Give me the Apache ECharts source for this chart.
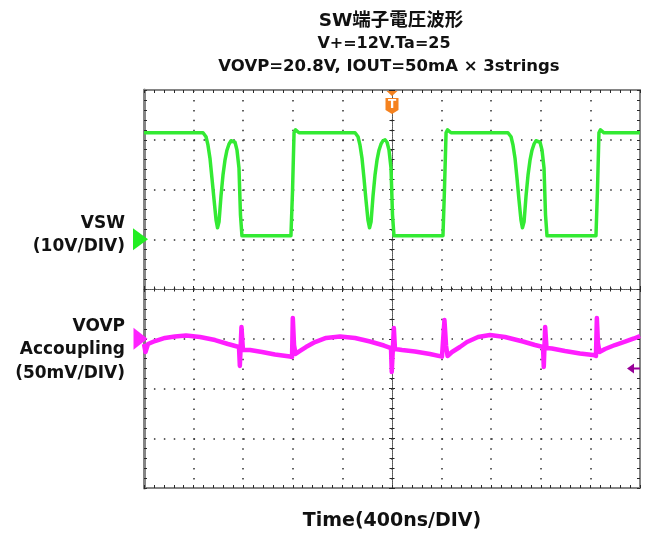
<!DOCTYPE html>
<html><head><meta charset="utf-8">
<script src="https://cdn.jsdelivr.net/npm/echarts@6/dist/echarts.min.js"></script>
<style>html,body{margin:0;padding:0;background:#fff}#c{width:648px;height:543px}</style>
</head><body><div id="c"></div>
<script>
// ---- texts ----
const titleLines = ['SW端子電圧波形', 'V+=12V.Ta=25', 'VOVP=20.8V, IOUT=50mA × 3strings'];
const vswLabel = 'VSW\n(10V/DIV)';
const ovpLabel = 'VOVP\nAccoupling\n(50mV/DIV)';
const timeLabel = 'Time(400ns/DIV)';
const triggerText = 'T';

// ---- scales (scope divisions) ----
const timeRange = [0, 4000];      // ns, 400 ns/div
const timeDiv = 400;
const vswRange = [-50, 30];       // V, 10 V/div
const vswDiv = 10;
const ovpRange = [-150, 250];     // mV, 50 mV/div
const ovpDiv = 50;

// ---- markers ----
const vswGround = 0;              // V
const ovpZero = 0;                // mV
const triggerTime = 2000;         // ns
const ovpCursorLevel = -30;       // mV

// ---- VSW trace (ns, V) ----
const vswTime = [0, 476, 500, 516, 532, 548, 565, 581, 593, 605, 621, 637, 653, 669, 685, 702, 718, 734, 750, 766, 778, 790,
  1185, 1198, 1210, 1222, 1250,
  1702, 1726, 1742, 1758, 1774, 1790, 1806, 1819, 1831, 1847, 1863, 1879, 1895, 1911, 1927, 1944, 1960, 1976, 1992, 2004, 2016,
  2411, 2423, 2436, 2448, 2476,
  2935, 2960, 2976, 2992, 3008, 3024, 3040, 3052, 3065, 3081, 3097, 3113, 3129, 3145, 3161, 3177, 3194, 3210, 3226, 3238, 3250,
  3645, 3657, 3669, 3681, 3710, 4000];
const vswVolt = [21.4, 21.4, 20.6, 18.9, 16.3, 12.3, 7.9, 3.9, 2.3, 3.5, 8.7, 12.9, 15.9, 17.9, 19.1, 19.8, 20.0, 19.5, 17.9, 14.3, 4.9, 0.7,
  0.7, 9.9, 21.4, 22.0, 21.4,
  21.4, 20.6, 18.9, 16.3, 12.3, 7.9, 3.9, 2.3, 3.5, 8.7, 12.9, 15.9, 17.9, 19.1, 19.8, 20.0, 19.5, 17.9, 14.3, 4.9, 0.7,
  0.7, 9.9, 21.4, 22.0, 21.4,
  21.4, 20.6, 18.9, 16.3, 12.3, 7.9, 3.9, 2.3, 3.5, 8.7, 12.9, 15.9, 17.9, 19.1, 19.8, 20.0, 19.5, 17.9, 14.3, 4.9, 0.7,
  0.7, 9.9, 21.4, 22.0, 21.4, 21.4];

// ---- VOVP trace, AC coupled (ns, mV) ----
const ovpTime = [0, 12, 32, 89, 169, 250, 339, 452, 573, 677, 766, 773, 786, 798,
  855, 952, 1056, 1177, 1194, 1200, 1210, 1222, 1258, 1306, 1379, 1468, 1581, 1702, 1823, 1935, 1992,
  1998, 2015, 2024,
  2081, 2185, 2306, 2403, 2418, 2423, 2436, 2448, 2484, 2548, 2605, 2694, 2790, 2911, 3056, 3153, 3218,
  3224, 3235, 3246,
  3290, 3395, 3516, 3621, 3645, 3652, 3661, 3673, 3718, 3798, 3879, 3952, 4000];
const ovpMilliVolt = [-5.3, -13.3, -5.3, -2.3, 0.8, 2.3, 3.3, 1.8, -1.3, -5.3, -8.3, -27.4, 11.8, -11.3,
  -11.3, -13.3, -15.8, -17.8, -18.3, 20.9, -6.3, -15.3, -12.3, -8.3, -3.3, 0.8, 2.3, 0.8, -2.8, -6.8, -9.3,
  -33.4, 10.8, -10.3,
  -11.3, -12.8, -15.3, -18.0, -18.3, 18.8, -7.3, -17.3, -13.3, -8.3, -3.3, 1.8, 3.8, 1.8, -2.8, -6.3, -8.3,
  -28.4, 11.8, -9.3,
  -9.8, -12.3, -14.8, -16.3, -17.3, 20.9, -4.3, -13.3, -10.3, -6.3, -3.0, 0.3, 2.8];

const FONT = "'DejaVu Sans','Noto Sans CJK JP',sans-serif";
const BORDER = '#858585', TICK = '#2a2a2a', DOT = '#2e2e2e';
const GREEN = '#33ea33', MAGENTA = '#ff1eff';

const vswData = vswTime.map((t, i) => [t, vswVolt[i]]);
const ovpData = ovpTime.map((t, i) => [t, ovpMilliVolt[i]]);

function frameAxis(extra) {
  return Object.assign({
    type: 'value', axisLabel: { show: false }, splitLine: { show: false },
    axisLine: { onZero: false, lineStyle: { color: BORDER, width: 2 } },
    axisTick: { show: true, inside: true, length: 3, lineStyle: { color: TICK, width: 1 } },
    minorTick: { show: true, splitNumber: 5, length: 3, lineStyle: { color: TICK, width: 1 } }
  }, extra);
}
function centerAxis(extra, inside) {
  return Object.assign({
    type: 'value', axisLabel: { show: false }, splitLine: { show: false },
    axisLine: { onZero: false, lineStyle: { color: '#555', width: 1, type: [1, 1] } },
    axisTick: { show: true, inside: inside, length: 3, lineStyle: { color: TICK, width: 1 } },
    minorTick: { show: true, splitNumber: 5, length: 2.5, lineStyle: { color: TICK, width: 1 } }
  }, extra);
}
const xBase = { min: timeRange[0], max: timeRange[1], interval: timeDiv };
const yBase = { min: vswRange[0], max: vswRange[1], interval: vswDiv };

const chart = echarts.init(document.getElementById('c'), null, { renderer: 'canvas' });
chart.setOption({
  animation: false,
  backgroundColor: '#ffffff',
  grid: { left: 144, top: 90, width: 496, height: 398, outerBoundsMode: 'none', containLabel: false },
  xAxis: [
    frameAxis(Object.assign({}, xBase, {
      position: 'bottom',
      splitLine: { show: true, lineStyle: { color: DOT, width: 1.5, type: [1.5, 8.45] } },
      name: timeLabel, nameLocation: 'middle', nameGap: 24,
      nameTextStyle: { fontFamily: FONT, fontWeight: 'bold', fontSize: 19, color: '#111' }
    })),
    frameAxis(Object.assign({}, xBase, { position: 'top' })),
    centerAxis(Object.assign({}, xBase, { position: 'bottom', offset: -199 }), true),
    centerAxis(Object.assign({}, xBase, { position: 'bottom', offset: -199 }), false)
  ],
  yAxis: [
    frameAxis(Object.assign({}, yBase, {
      position: 'left',
      axisLine: { onZero: false, lineStyle: { color: BORDER, width: 3 } },
      splitLine: { show: true, lineStyle: { color: DOT, width: 1.5, type: [1.5, 8.42] } }
    })),
    { type: 'value', show: false, min: ovpRange[0], max: ovpRange[1], interval: ovpDiv, position: 'right',
      axisLine: { onZero: false }, splitLine: { show: false } },
    frameAxis(Object.assign({}, yBase, { position: 'right' })),
    centerAxis(Object.assign({}, yBase, { position: 'left', offset: -248 }), true),
    centerAxis(Object.assign({}, yBase, { position: 'left', offset: -248 }), false)
  ],
  series: [
    {
      name: 'VSW', type: 'line', xAxisIndex: 0, yAxisIndex: 0, data: vswData,
      symbol: 'none', smooth: false, z: 5, clip: true,
      lineStyle: { color: GREEN, width: 3.5, join: 'round' },
      markPoint: {
        silent: true, z: 10,
        data: [
          { coord: [timeRange[0], vswGround], symbol: 'path://M0,0 L15,11 L0,22 Z', symbolSize: [15, 22],
            symbolOffset: [-3.5, 0], itemStyle: { color: '#22ee22' }, label: { show: false } },
          { coord: [triggerTime, vswRange[1]],
            symbol: 'path://M1,0 L12,0 L6.5,5 Z M0,7 L13,7 L13,19 L6.5,23 L0,19 Z', symbolSize: [13, 23],
            symbolOffset: [0, 12.5], itemStyle: { color: '#f5821f' },
            label: { show: true, formatter: triggerText, position: 'inside', offset: [0, 2], color: '#fff',
              fontFamily: FONT, fontWeight: 'bold', fontSize: 12 } }
        ]
      }
    },
    {
      name: 'VOVP', type: 'line', xAxisIndex: 0, yAxisIndex: 1, data: ovpData,
      symbol: 'none', smooth: false, z: 4, clip: true,
      lineStyle: { color: MAGENTA, width: 4.5, join: 'round' },
      markPoint: {
        silent: true, z: 10,
        data: [
          { coord: [timeRange[0], ovpZero], symbol: 'path://M0,0 L15,11 L0,22 Z', symbolSize: [14, 22],
            symbolOffset: [-3.5, 0], itemStyle: { color: '#ff22ff' }, label: { show: false } },
          { coord: [timeRange[1], ovpCursorLevel],
            symbol: 'path://M0,5 L7,0 L7,4 L13,4 L13,6 L7,6 L7,10 Z', symbolSize: [13, 10],
            symbolOffset: [-6.5, 0], itemStyle: { color: '#990099' }, label: { show: false } }
        ]
      }
    }
  ],
  graphic: [
    { type: 'text', x: 391, y: 21.5, style: { text: titleLines[0], align: 'center', verticalAlign: 'middle',
      font: "bold 18.5px " + FONT, fill: '#111' } },
    { type: 'text', x: 384, y: 43.5, style: { text: titleLines[1], align: 'center', verticalAlign: 'middle',
      font: "bold 16px " + FONT, fill: '#111' } },
    { type: 'text', x: 389, y: 66.5, style: { text: titleLines[2], align: 'center', verticalAlign: 'middle',
      font: "bold 16.5px " + FONT, fill: '#111' } },
    { type: 'text', x: 125, y: 235, style: { text: vswLabel, align: 'right', verticalAlign: 'middle',
      font: "bold 17px " + FONT, fill: '#111', lineHeight: 23.5 } },
    { type: 'text', x: 125, y: 350, style: { text: ovpLabel, align: 'right', verticalAlign: 'middle',
      font: "bold 17px " + FONT, fill: '#111', lineHeight: 23.75 } }
  ]
});
</script></body></html>
